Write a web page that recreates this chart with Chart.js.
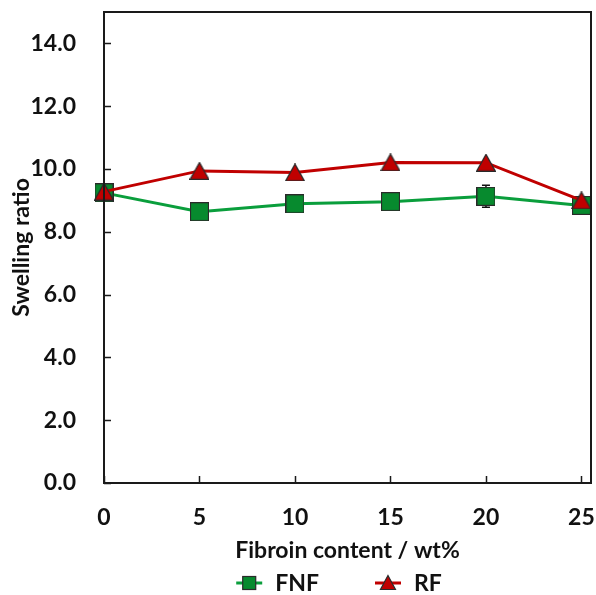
<!DOCTYPE html>
<html>
<head>
<meta charset="utf-8">
<script src="https://cdn.jsdelivr.net/npm/chart.js@4/dist/chart.umd.min.js"></script>
<style>
  html, body { margin: 0; padding: 0; background: #ffffff; }
  #wrap { width: 596px; height: 595px; }
</style>
</head>
<body>
<div id="wrap"><canvas id="chart" width="596" height="595"></canvas></div>
<script>
// Swelling ratio of fibroin composite gels
const fibroinContent = [0, 5, 10, 15, 20, 25];          // wt%
const fnfSwelling    = [9.24, 8.64, 8.89, 8.96, 9.13, 8.84];
const fnfError       = [0.10, 0.12, 0.10, 0.10, 0.35, 0.12];
const rfSwelling     = [9.28, 9.94, 9.89, 10.21, 10.20, 9.00];
const seriesNames    = ['FNF', 'RF'];
const xTitle = 'Fibroin content / wt%';
const yTitle = 'Swelling ratio';

const FONT = 'Lato, "Open Sans", sans-serif';
const FONT_SIZE = 23;
const GREEN_LINE = '#0a9e3c';
const GREEN_FILL = '#078a2e';
const RED_LINE = '#c00000';
const RED_FILL = '#c00000';
const EDGE = '#2a2a2a';

// marker sprites
function squareSprite(side) {
  const c = document.createElement('canvas');
  c.width = side + 1; c.height = side + 1;
  const g = c.getContext('2d');
  g.fillStyle = GREEN_FILL;
  g.fillRect(0.5, 0.5, side, side);
  g.strokeStyle = EDGE; g.lineWidth = 1.2;
  g.strokeRect(0.5, 0.5, side, side);
  return c;
}
function triangleSprite(w, h) {
  const c = document.createElement('canvas');
  c.width = w + 1; c.height = h + 1;
  const g = c.getContext('2d');
  g.beginPath();
  g.moveTo((w + 1) / 2, 0.6);
  g.lineTo(w + 0.4, h + 0.4);
  g.lineTo(0.6, h + 0.4);
  g.closePath();
  g.fillStyle = RED_FILL; g.fill();
  g.strokeStyle = EDGE; g.lineWidth = 1.2; g.stroke();
  return c;
}

const squareMarker = squareSprite(18);
const triangleMarker = triangleSprite(19, 17);

// error bars, drawn underneath the markers
const errorBarPlugin = {
  id: 'errorBars',
  beforeDatasetsDraw(chart) {
    const { ctx, scales: { x, y } } = chart;
    ctx.save();
    ctx.strokeStyle = '#111';
    ctx.lineWidth = 1.5;
    chart.data.datasets.forEach((ds, di) => {
      if (!ds.errors || !chart.isDatasetVisible(di)) return;
      ds.data.forEach((pt, i) => {
        const px = x.getPixelForValue(pt.x);
        const yt = y.getPixelForValue(pt.y + ds.errors[i]);
        const yb = y.getPixelForValue(pt.y - ds.errors[i]);
        ctx.beginPath();
        ctx.moveTo(px, yt); ctx.lineTo(px, yb);
        ctx.moveTo(px - 4, yt); ctx.lineTo(px + 4, yt);
        ctx.moveTo(px - 4, yb); ctx.lineTo(px + 4, yb);
        ctx.stroke();
      });
    });
    ctx.restore();
  }
};

// plot frame with inward tick marks
const framePlugin = {
  id: 'frame',
  afterDraw(chart) {
    const { ctx, chartArea: a, scales: { x, y } } = chart;
    ctx.save();
    ctx.strokeStyle = '#1a1a1a';
    ctx.lineWidth = 2;
    ctx.strokeRect(a.left, a.top, a.right - a.left, a.bottom - a.top);
    ctx.lineWidth = 1.5;
    ctx.beginPath();
    y.ticks.forEach(t => {
      const py = Math.round(y.getPixelForValue(t.value)) + 0.5;
      ctx.moveTo(a.left, py); ctx.lineTo(a.left + 7, py);
    });
    x.ticks.forEach(t => {
      const px = Math.round(x.getPixelForValue(t.value)) + 0.5;
      ctx.moveTo(px, a.bottom); ctx.lineTo(px, a.bottom - 7);
    });
    ctx.stroke();
    ctx.restore();
  }
};

// legend: line sample with marker, then series name
const legendPlugin = {
  id: 'lineLegend',
  afterDraw(chart) {
    const { ctx } = chart;
    ctx.save();
    ctx.font = 'bold ' + FONT_SIZE + 'px ' + FONT;
    const sampleW = 26, gap = 13, itemGap = 56;
    const items = chart.data.datasets.map(ds => ({
      label: ds.label, color: ds.borderColor, kind: ds.legendMarker,
      w: sampleW + gap + ctx.measureText(ds.label).width
    }));
    const total = items.reduce((s, it) => s + it.w, 0) + itemGap * (items.length - 1);
    let x0 = 339 - total / 2;
    const cy = 583;
    items.forEach(it => {
      ctx.strokeStyle = it.color; ctx.lineWidth = 3;
      ctx.beginPath(); ctx.moveTo(x0, cy); ctx.lineTo(x0 + sampleW, cy); ctx.stroke();
      const mx = x0 + sampleW / 2;
      ctx.lineWidth = 1.2; ctx.strokeStyle = EDGE;
      if (it.kind === 'square') {
        ctx.fillStyle = GREEN_FILL;
        ctx.fillRect(mx - 6.5, cy - 6.5, 13, 13);
        ctx.strokeRect(mx - 6.5, cy - 6.5, 13, 13);
      } else {
        ctx.fillStyle = RED_FILL;
        ctx.beginPath();
        ctx.moveTo(mx, cy - 7.5); ctx.lineTo(mx + 7.5, cy + 6.5); ctx.lineTo(mx - 7.5, cy + 6.5);
        ctx.closePath(); ctx.fill(); ctx.stroke();
      }
      ctx.fillStyle = '#111';
      ctx.textBaseline = 'middle';
      ctx.textAlign = 'left';
      ctx.fillText(it.label, x0 + sampleW + gap, cy + 1);
      x0 += it.w + itemGap;
    });
    ctx.restore();
  }
};

const toPoints = ys => fibroinContent.map((xv, i) => ({ x: xv, y: ys[i] }));

// fixed axis boxes so the plot area sits where it should
function fixBox(size, dim) {
  return scale => {
    scale[dim] = size;
    scale.paddingTop = 0; scale.paddingBottom = 0;
    scale.paddingLeft = 0; scale.paddingRight = 0;
  };
}

new Chart(document.getElementById('chart'), {
  type: 'line',
  data: {
    datasets: [
      {
        label: seriesNames[0],
        data: toPoints(fnfSwelling),
        errors: fnfError,
        legendMarker: 'square',
        borderColor: GREEN_LINE,
        borderWidth: 3,
        pointStyle: squareMarker,
        pointRadius: 9,
        tension: 0,
        clip: 12,
        order: 2
      },
      {
        label: seriesNames[1],
        data: toPoints(rfSwelling),
        legendMarker: 'triangle',
        borderColor: RED_LINE,
        borderWidth: 3,
        pointStyle: triangleMarker,
        pointRadius: 9,
        tension: 0,
        clip: 12,
        order: 1
      }
    ]
  },
  options: {
    responsive: false,
    animation: false,
    events: [],
    layout: { autoPadding: false, padding: { top: 12, right: 5, left: 0, bottom: 0 } },
    plugins: { legend: { display: false }, tooltip: { enabled: false } },
    scales: {
      x: {
        type: 'linear',
        min: 0, max: 25.5,
        grid: { display: false, drawTicks: false },
        border: { display: false },
        ticks: {
          stepSize: 5, includeBounds: false, padding: 21,
          color: '#111', font: { family: FONT, size: FONT_SIZE, weight: 'bold' }
        },
        title: {
          display: true, text: xTitle, color: '#111',
          font: { family: FONT, size: FONT_SIZE, weight: 'bold' },
          padding: { top: 0, bottom: 31 }
        },
        afterFit: fixBox(112, 'height')
      },
      y: {
        min: 0, max: 15,
        grid: { display: false, drawTicks: false },
        border: { display: false },
        ticks: {
          stepSize: 2, includeBounds: false, padding: 28,
          color: '#111', font: { family: FONT, size: FONT_SIZE, weight: 'bold' },
          callback: v => v.toFixed(1)
        },
        title: {
          display: true, text: yTitle, color: '#111',
          font: { family: FONT, size: FONT_SIZE, weight: 'bold' },
          padding: { top: 8, bottom: 0 }
        },
        afterFit: fixBox(104, 'width')
      }
    }
  },
  plugins: [errorBarPlugin, framePlugin, legendPlugin]
});
</script>
</body>
</html>
